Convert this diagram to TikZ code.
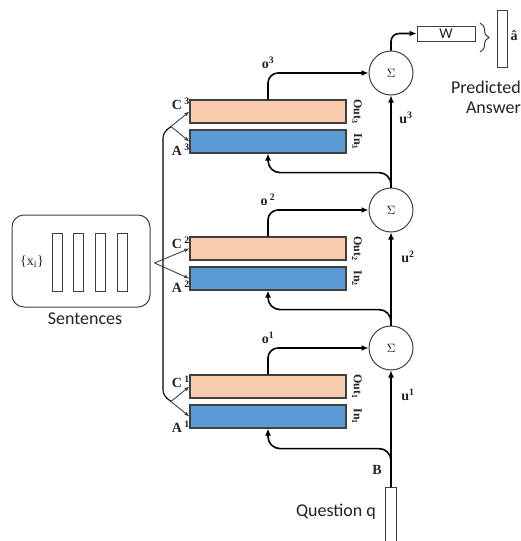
\documentclass[tikz,border=0pt]{standalone}
\usepackage{fontspec}
\setmainfont{Liberation Serif}
\newfontfamily\sansf{Carlito}
\usetikzlibrary{arrows.meta,calc,decorations.pathreplacing}
\definecolor{peach}{HTML}{F8CBAD}
\definecolor{mblue}{HTML}{5B9BD5}
\definecolor{edge}{HTML}{404040}
\definecolor{ink}{HTML}{222222}
\begin{document}
\begin{tikzpicture}[x=1pt,y=-1pt,
 memc/.style={draw=edge,line width=1.2pt,fill=peach,minimum width=156pt,minimum height=23pt,inner sep=0pt},
 mema/.style={memc,fill=mblue},
 sigma/.style={circle,draw=edge,line width=1pt,minimum size=44pt,inner sep=0pt,font=\fontsize{13}{13}\selectfont},
 flow/.style={line width=1.6pt,-{Latex[length=7pt,width=6pt]}},
 thinflow/.style={line width=1.1pt,-{Latex[length=7pt,width=6pt]}},
 fork/.style={line width=0.9pt,draw=edge,-{Latex[length=5pt,width=4pt]}},
 lab/.style={font=\fontsize{14}{14}\selectfont\bfseries,text=ink,inner sep=0pt},
 side/.style={font=\fontsize{12}{12}\selectfont\bfseries,text=ink,inner sep=0pt,rotate=-90},
 sans/.style={font=\sansf\fontsize{18}{20}\selectfont,text=ink,inner sep=0pt},
 vec/.style={draw=edge,line width=1pt,fill=white,inner sep=0pt,minimum width=10pt}
]
\useasboundingbox (0,0) rectangle (521,541);
% sums
\node[sigma] (sig1) at (391,348) {$\Sigma$};
\node[sigma] (sig2) at (391,210) {$\Sigma$};
\node[sigma] (sig3) at (391,73) {$\Sigma$};
% memories
\node[memc] (c1) at (268,386.5) {};
\node[mema] (a1) at (268,416.5) {};
\node[memc] (c2) at (268,248.5) {};
\node[mema] (a2) at (268,278.5) {};
\node[memc] (c3) at (268,111.5) {};
\node[mema] (a3) at (268,141.5) {};
\node[side] (out1) at (357,386.5) {Out\textsubscript{1}};
\node[side] (in1) at (357,416.5) {In\textsubscript{1}};
\node[side] (out2) at (357,248.5) {Out\textsubscript{2}};
\node[side] (in2) at (357,278.5) {In\textsubscript{2}};
\node[side] (out3) at (357,111.5) {Out\textsubscript{3}};
\node[side] (in3) at (357,141.5) {In\textsubscript{3}};
\node[lab,anchor=east] (lc1) at (190,382) {C\,\textsuperscript{1}};
\node[lab,anchor=east] (la1) at (190,427) {A\,\textsuperscript{1}};
\node[lab,anchor=east] (lc2) at (190,243) {C\,\textsuperscript{2}};
\node[lab,anchor=east] (la2) at (190,287) {A\,\textsuperscript{2}};
\node[lab,anchor=east] (lc3) at (190,104) {C\,\textsuperscript{3}};
\node[lab,anchor=east] (la3) at (190,150) {A\,\textsuperscript{3}};
\node[lab] (lo1) at (268,338) {o\textsuperscript{1}};
\node[lab] (lo2) at (268,200) {o\,\textsuperscript{2}};
\node[lab] (lo3) at (268,63) {o\textsuperscript{3}};
\node[lab] (lu1) at (408,395) {u\textsuperscript{1}};
\node[lab] (lu2) at (408,257) {u\textsuperscript{2}};
\node[lab] (lu3) at (406,118) {u\textsuperscript{3}};
% sentences
\node[draw=edge,line width=1pt,rounded corners=12pt,minimum width=138pt,minimum height=92pt] (sent) at (81,261) {};
\node[vec,minimum height=58pt] (s1) at (57,262) {};
\node[vec,minimum height=58pt] (s2) at (78,262) {};
\node[vec,minimum height=58pt] (s3) at (100.5,262) {};
\node[vec,minimum height=58pt] (s4) at (122,262) {};
\node[font=\fontsize{14}{14}\selectfont,text=ink,inner sep=0pt] (xi) at (32,262) {\{x\textsubscript{i}\}};
\node[sans] (sentl) at (85,319) {Sentences};
% question
\node[vec,minimum width=11pt,minimum height=70pt,anchor=north] (q) at (391,487) {};
\node[sans] (ql) at (336,512) {Question q};
\node[lab] (bl) at (377,470) {B};
% answer
\node[draw=edge,line width=1pt,minimum width=58pt,minimum height=15pt,inner sep=0pt,font=\sansf\fontsize{15}{15}\selectfont,text=ink] (w) at (446,33.5) {W};
\node[vec,minimum height=57pt] (ah) at (502,38.5) {};
\node[lab] (ahl) at (514,36) {\^{a}};
\draw[decorate,decoration={brace,amplitude=9pt},line width=1pt,draw=edge] (480,23) -- (480,52);
\node[sans,align=right,anchor=east] (pa) at (521,97) {Predicted\\Answer};
% flows
\draw[flow,rounded corners=10pt] (c1.north) |- (sig1.west);
\draw[flow,rounded corners=10pt] (c2.north) |- (sig2.west);
\draw[flow,rounded corners=10pt] (c3.north) |- (sig3.west);
\draw[flow,rounded corners=12pt] (q.north) |- ($(a1.south)+(0,20)$) -- (a1.south);
\draw[thinflow] (q.north) -- (sig1.south);
\draw[flow,rounded corners=12pt] (sig1.north) |- ($(a2.south)+(0,19)$) -- (a2.south);
\draw[thinflow] (sig1.north) -- (sig2.south);
\draw[flow,rounded corners=12pt] (sig2.north) |- ($(a3.south)+(0,19)$) -- (a3.south);
\draw[thinflow] (sig2.north) -- (sig3.south);
\draw[flow,rounded corners=8pt] (sig3.north) |- (w.west);
% forks
\coordinate (f1) at (171,401.5);
\coordinate (f3) at (171,126.5);
\coordinate (f2) at ($(sent.east)+(4,2)$);
\draw[line width=1.1pt,rounded corners=5pt] (f1) -- (163,395) -- (163,133) -- (f3);
\draw[fork] (f1) -- (c1.west);
\draw[fork] (f1) -- (a1.west);
\draw[fork] (f2) -- (c2.west);
\draw[fork] (f2) -- (a2.west);
\draw[fork] (f3) -- (c3.west);
\draw[fork] (f3) -- (a3.west);
\end{tikzpicture}
\end{document}
